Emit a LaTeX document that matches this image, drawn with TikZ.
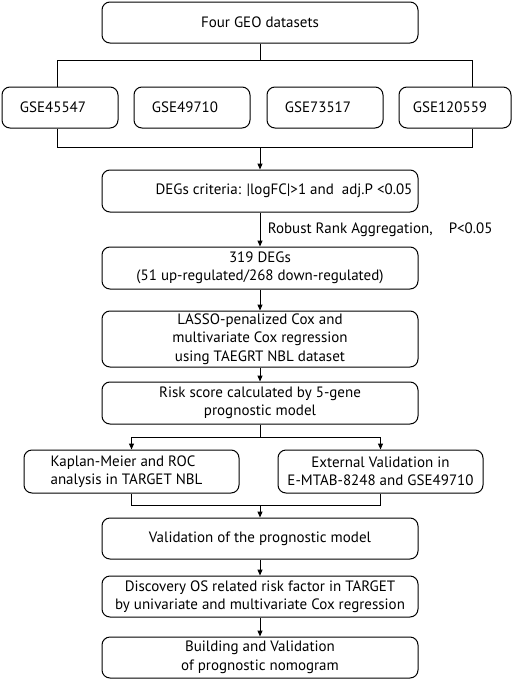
\documentclass[tikz,border=0pt]{standalone}
\usepackage{fontspec}
\setmainfont{PT Sans}
\usetikzlibrary{arrows.meta}

\tikzset{
  box/.style={draw,rounded corners=8pt,line width=1pt,align=center,
    minimum width=316pt,minimum height=41pt,inner sep=2pt,
    font=\fontsize{15}{18.5}\selectfont},
  gse/.style={box,minimum width=116pt},
  arr/.style={-{Triangle[length=6pt,width=5pt]}},
}

\begin{document}
\begin{tikzpicture}[x=1pt,y=-1pt,line width=1pt]
    \useasboundingbox (0,0) rectangle (512,680);
            \draw (260,22.5)  node[box] (geo) {Four GEO datasets};
            \draw (60,107.5)  node[gse] (gseA) {GSE45547\hspace*{14pt}};
            \draw (192,107.5) node[gse] (gseB) {GSE49710\hspace*{14pt}};
            \draw (325,107.5) node[gse] (gseC) {GSE73517\hspace*{14pt}};
            \draw (455,107.5) node[gse,minimum width=112pt] (gseD) {GSE120559\hspace*{10pt}};
            \draw (260,191)   node[box,minimum height=42pt] (degs) {\hspace*{48pt}DEGs criteria: |logFC|>1 and~ adj.P <0.05};
            \draw (260,268)   node[box,minimum height=42pt] (deg319) {319 DEGs\\(51 up-regulated/268 down-regulated)};
            \draw (260,339)   node[box,minimum height=56pt] (lasso) {LASSO-penalized Cox and\\multivariate Cox regression\\using TAEGRT NBL dataset};
            \draw (260,403)   node[box,minimum height=42pt] (risk) {Risk score calculated by 5-gene\\prognostic model};
            \draw (131.5,471.5) node[box,align=left,minimum width=215pt,minimum height=43pt] (kaplan) {Kaplan-Meier and ROC\\analysis in TARGET NBL\hspace*{10pt}};
            \draw (380.5,471.5) node[box,minimum width=205pt,minimum height=43pt] (external) {External Validation in\\E-MTAB-8248 and GSE49710};
            \draw (260,538.5) node[box] (valid) {Validation of the prognostic model};
            \draw (260,596.5) node[box] (disc) {Discovery OS related risk factor in TARGET\\by univariate and multivariate Cox regression};
            \draw (260,657.5) node[box] (build) {Building and Validation\\of prognostic nomogram};
            % junction points
            \coordinate (topL) at (57.5,60);
            \coordinate (topR) at (472,60);
            \coordinate (botL) at (57.5,147);
            \coordinate (botR) at (472,147);
            \coordinate (fork) at (260,437);
            \coordinate (merge) at (260,505);
            \draw (geo.south) -- (geo.south |- topL)
                  (gseA.north -| topL) -- (topL) -- (topR) -- (gseD.north -| topR)
                  (gseA.south -| botL) -- (botL) -- (botR) -- (gseD.south -| botR);
            \draw[arr] (degs.north |- botL) -- (degs.north);
            \draw[arr] (degs) -- node[right,xshift=4pt,font=\fontsize{15}{18}\selectfont] {Robust Rank Aggregation,~~~ P<0.05} (deg319);
            \draw[arr] (deg319) -- (lasso);
            \draw[arr] (lasso) -- (risk);
            \draw (risk.south) -- (fork)
                  (kaplan.north |- fork) -- (external.north |- fork);
            \draw[arr] (kaplan.north |- fork) -- (kaplan.north);
            \draw[arr] (external.north |- fork) -- (external.north);
            \draw (kaplan.south) -- (kaplan.south |- merge) -- (external.south |- merge) -- (external.south);
            \draw[arr] (valid.north |- merge) -- (valid.north);
            \draw[arr] (valid) -- (disc);
            \draw[arr] (disc) -- (build);
\end{tikzpicture}
\end{document}
